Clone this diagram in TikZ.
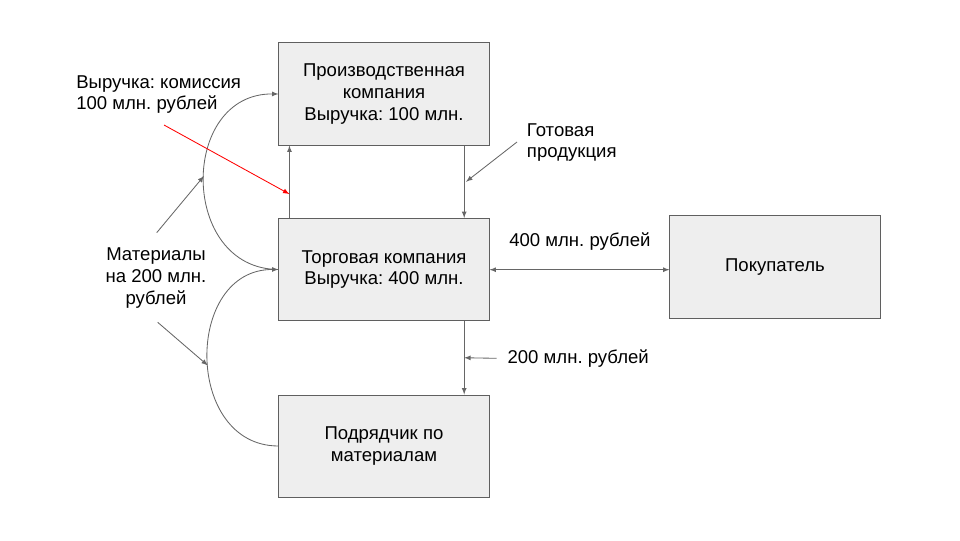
\documentclass[tikz,border=0pt]{standalone}
\usepackage{fontspec}
\setmainfont{Liberation Sans}
\frenchspacing
\usepackage{tikz}
\usetikzlibrary{calc, arrows, shapes}
\tikzset{>=latex}
\definecolor{boxfill}{HTML}{EEEEEE}
\definecolor{boxline}{HTML}{5F5F5F}
\definecolor{flowline}{HTML}{666666}
\tikzset{
  firm/.style = {draw = boxline, fill = boxfill, line width = 0.7pt, minimum width = 5.25cm, minimum height = 2.55cm, align = center, inner sep = 0},
  note/.style = {inner sep = 0, anchor = west, align = left},
  flow/.style = {draw = flowline, line width = 0.6pt}
}

\begin{document}
\begin{tikzpicture}[x = 0.025cm, y = -0.025cm, font = \fontsize{13.2}{15.4}\selectfont]
\useasboundingbox (0, 0) rectangle (960, 540);
\node[firm] (prod) at (384, 94) {Производственная\\компания\\Выручка: 100 млн.};
\node[firm] (trade) at (384, 269.5) {Торговая компания\\Выручка: 400 млн.};
\node[firm] (contr) at (384, 446) {Подрядчик по\\материалам};
\node[firm] (buyer) at (775, 267) {Покупатель};

\node[note] (revenue) at (76, 94.5) {Выручка: комиссия\\100 млн. рублей};
\node[note] (goods) at (526.7, 142.5) {Готовая\\продукция};
\node[note] (pay400) at (509, 241.7) {400 млн. рублей};
\node[note] (pay200) at (507.3, 358.3) {200 млн. рублей};
\node[align = center, inner sep = 0] (materials) at (156, 278) {Материалы\\на 200 млн.\\рублей};

% flows between the firms
\draw[flow, ->] ($(trade.north west)!0.052!(trade.north east)$) -- coordinate[pos = 0.33] (commis) ($(prod.south west)!0.052!(prod.south east)$);
\draw[flow, ->] ($(prod.south west)!0.88!(prod.south east)$) -- coordinate[pos = 0.5] (goodsin) ($(trade.north west)!0.88!(trade.north east)$);
\draw[flow, ->] ($(trade.south west)!0.88!(trade.south east)$) -- coordinate[pos = 0.5] (payin) ($(contr.north west)!0.88!(contr.north east)$);
\draw[flow, <->] (trade.east |- 0, 269.7) -- (buyer.west |- 0, 269.7);

% materials loops
\draw[flow, ->] (trade.west) .. controls (179, 269) and (179, 93) .. coordinate[pos = 0.52] (loopup) (prod.west);
\draw[flow, ->] (contr.west) .. controls (184, 446) and (184, 269) .. coordinate[pos = 0.47] (loopdown) (trade.west);

% label pointers
\coordinate (revtail) at (164, 125);
\coordinate (goodstail) at (517, 142);
\coordinate (paytail) at (496.7, 358.3);
\coordinate (mattop) at (156.7, 232.7);
\coordinate (matbot) at (157.7, 322.3);
\draw[red, line width = 0.6pt, ->] (revtail) -- (commis);
\draw[flow, ->] (goodstail) -- ([xshift = 1.3]goodsin);
\draw[flow, ->] (paytail) -- (payin);
\draw[flow, ->] (mattop) -- (loopup);
\draw[flow, ->] (matbot) -- (loopdown);
\end{tikzpicture}
\end{document}
